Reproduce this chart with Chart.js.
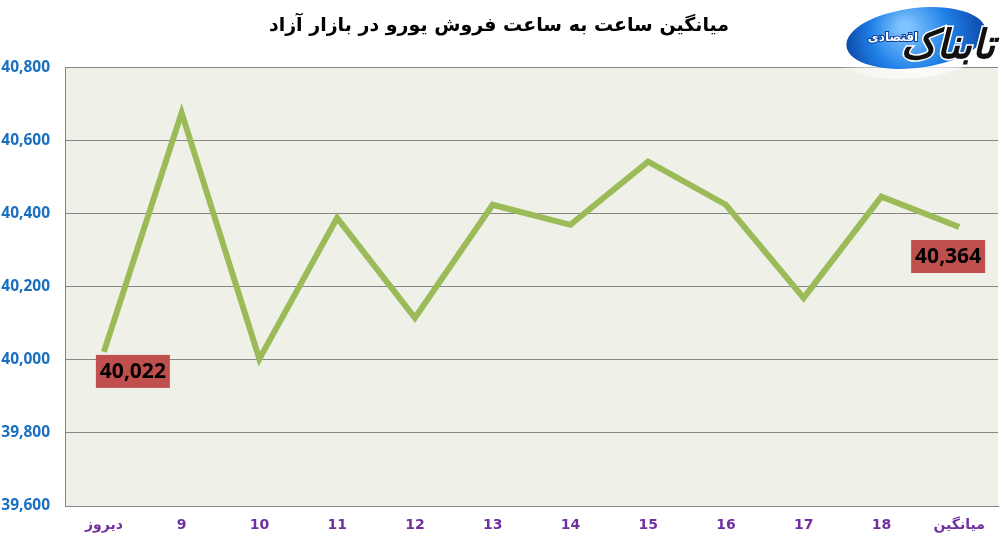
<!DOCTYPE html>
<html lang="fa">
<head>
  <meta charset="UTF-8">
  <title>میانگین ساعت به ساعت فروش یورو</title>
  <script src="https://cdn.jsdelivr.net/npm/chart.js"></script>
  <style>
    html, body { margin: 0; padding: 0; background: #ffffff; }
    #chartContainer { width: 1008px; height: 544px; position: relative; }
  </style>
</head>
<body>
<div id="chartContainer">
  <canvas id="euroChart"></canvas>
</div>

<script>
// hours of the day, with yesterday first and the average last
const hours = ['دیروز', '9', '10', '11', '12', '13', '14', '15', '16', '17', '18', 'میانگین'];
const euroPrice = [40022, 40677, 40003, 40389, 40115, 40425, 40370, 40543, 40425, 40170, 40447, 40364];
const yTicks = [39600, 39800, 40000, 40200, 40400, 40600, 40800];
const labelledPoints = [0, 11];   // points that get a red value box

// light plot background
const plotBg = {
  id: 'plotBg',
  beforeDraw(chart) {
    const { ctx, chartArea } = chart;
    ctx.save();
    ctx.fillStyle = '#eff1e9';
    ctx.fillRect(chartArea.left, chartArea.top, chartArea.right - chartArea.left, chartArea.bottom - chartArea.top);
    ctx.restore();
  }
};

// red value boxes like the excel data labels
const valueBoxes = {
  id: 'valueBoxes',
  afterDatasetsDraw(chart) {
    const { ctx } = chart;
    const meta = chart.getDatasetMeta(0);
    ctx.save();
    ctx.font = 'bold 21px "Open Sans", sans-serif';
    ctx.textAlign = 'center';
    ctx.textBaseline = 'middle';
    labelledPoints.forEach(i => {
      const pt = meta.data[i];
      const first = i === 0;
      const w = 74, h = 33;
      const left = first ? pt.x - 8 : pt.x - 48;
      const top = first ? pt.y + 3 : pt.y + 13;
      ctx.fillStyle = '#c0504d';
      ctx.fillRect(left, top, w, h);
      ctx.fillStyle = '#000000';
      ctx.fillText(euroPrice[i].toLocaleString('en-US'), left + w / 2, top + h / 2 + 1);
    });
    ctx.restore();
  }
};

// rough copy of the site logo in the corner
const logo = {
  id: 'logo',
  afterDraw(chart) {
    const { ctx } = chart;
    ctx.save();
    ctx.translate(916, 38);
    ctx.rotate(-0.12);
    const halo = ctx.createRadialGradient(0, 0, 20, 0, 0, 90);
    halo.addColorStop(0, 'rgba(255,255,255,0.9)');
    halo.addColorStop(1, 'rgba(255,255,255,0)');
    ctx.fillStyle = halo;
    ctx.beginPath();
    ctx.ellipse(0, 0, 88, 40, 0, 0, Math.PI * 2);
    ctx.fill();
    const g = ctx.createRadialGradient(-10, -12, 5, 0, 0, 75);
    g.addColorStop(0, '#7fc4ff');
    g.addColorStop(0.5, '#1f7fe6');
    g.addColorStop(1, '#0b3f9e');
    ctx.fillStyle = g;
    ctx.beginPath();
    ctx.ellipse(0, 0, 70, 30, 0, 0, Math.PI * 2);
    ctx.fill();
    ctx.restore();

    ctx.save();
    ctx.textAlign = 'center';
    ctx.textBaseline = 'middle';
    ctx.font = 'bold italic 40px "DejaVu Sans", sans-serif';
    ctx.lineWidth = 3;
    ctx.strokeStyle = '#ffffff';
    ctx.strokeText('تابناک', 948, 48);
    ctx.fillStyle = '#111111';
    ctx.fillText('تابناک', 948, 48);
    ctx.font = 'bold 12px "DejaVu Sans", sans-serif';
    ctx.lineWidth = 2;
    ctx.strokeStyle = '#0b3f9e';
    ctx.strokeText('اقتصادی', 893, 38);
    ctx.fillStyle = '#ffffff';
    ctx.fillText('اقتصادی', 893, 38);
    ctx.restore();
  }
};

const ctx = document.getElementById('euroChart').getContext('2d');
new Chart(ctx, {
  type: 'line',
  data: {
    labels: hours,
    datasets: [{
      data: euroPrice,
      borderColor: '#9bbb59',
      borderWidth: 6,
      pointRadius: 0,
      tension: 0,
      borderJoinStyle: 'miter',
      fill: false
    }]
  },
  options: {
    responsive: true,
    maintainAspectRatio: false,
    animation: false,
    layout: { padding: { left: 0, right: 10, top: 0, bottom: 0 } },
    plugins: {
      legend: { display: false },
      tooltip: { enabled: false },
      title: {
        display: true,
        text: 'میانگین ساعت به ساعت فروش یورو در بازار آزاد',
        color: '#000000',
        font: { family: '"DejaVu Sans", sans-serif', size: 19, weight: 'bold' },
        padding: { top: 15, bottom: 30 }
      }
    },
    scales: {
      x: {
        offset: true,
        grid: { display: false, drawTicks: false },
        border: { display: true, color: '#868686' },
        ticks: {
          color: '#7030a0',
          padding: 11,
          maxRotation: 0,
          autoSkip: false,
          font: { family: '"DejaVu Sans", sans-serif', size: 14, weight: 'bold' }
        },
        afterFit(scale) { scale.height = 38; }
      },
      y: {
        min: yTicks[0],
        max: yTicks[yTicks.length - 1],
        afterBuildTicks(scale) { scale.ticks = yTicks.map(v => ({ value: v })); },
        grid: { color: '#868686', lineWidth: 1, drawTicks: false },
        border: { display: true, color: '#868686' },
        ticks: {
          color: '#1a6fbf',
          padding: 15,
          font: { family: '"Open Sans", sans-serif', size: 15.5, weight: 'bold' },
          callback: v => Number(v).toLocaleString('en-US')
        },
        afterFit(scale) { scale.width = 65; }
      }
    }
  },
  plugins: [plotBg, valueBoxes, logo]
});
</script>
</body>
</html>
